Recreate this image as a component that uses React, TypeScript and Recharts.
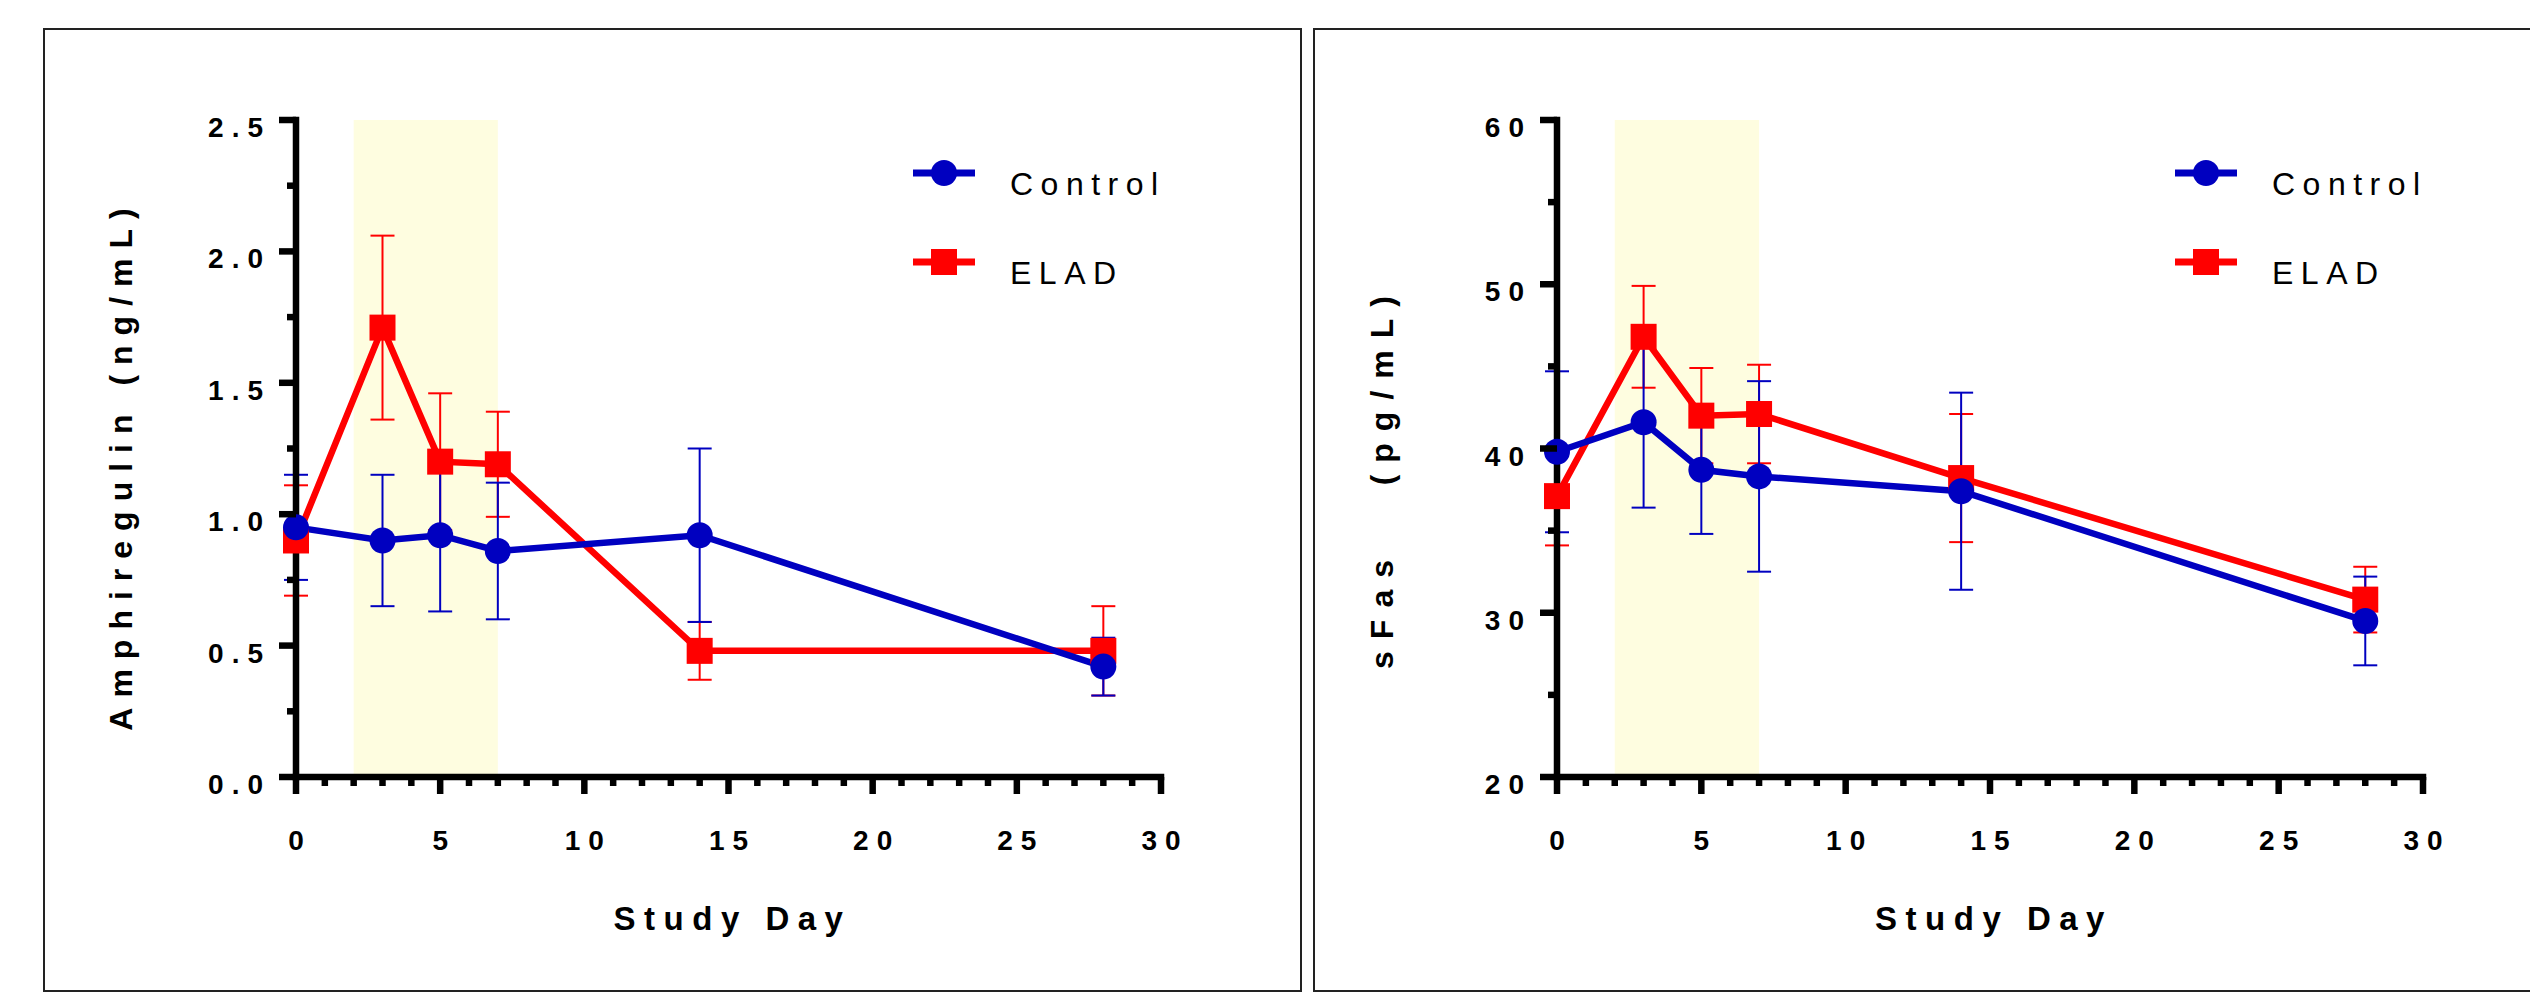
import React from 'react';
import { LineChart, Line, XAxis, YAxis, ErrorBar, ReferenceArea, Legend, Label } from 'recharts';

// ---------- data ----------
const DAYS = [0, 3, 5, 7, 14, 28];

const AMPH_CONTROL = [0.95, 0.90, 0.92, 0.86, 0.92, 0.42];
const AMPH_CONTROL_SEM = [0.20, 0.25, 0.29, 0.26, 0.33, 0.11];
const AMPH_ELAD = [0.90, 1.71, 1.20, 1.19, 0.48, 0.48];
const AMPH_ELAD_SEM = [0.21, 0.35, 0.26, 0.20, 0.11, 0.17];

const SFAS_CONTROL = [39.8, 41.6, 38.7, 38.3, 37.4, 29.5];
const SFAS_CONTROL_SEM = [4.9, 5.2, 3.9, 5.8, 6.0, 2.7];
const SFAS_ELAD = [37.1, 46.8, 42.0, 42.1, 38.2, 30.8];
const SFAS_ELAD_SEM = [3.0, 3.1, 2.9, 3.0, 3.9, 2.0];

const X_TICKS = [0, 1, 2, 3, 4, 5, 6, 7, 8, 9, 10, 11, 12, 13, 14, 15, 16, 17, 18, 19, 20, 21, 22, 23, 24, 25, 26, 27, 28, 29, 30];
const X_MAJOR = [0, 5, 10, 15, 20, 25, 30];
const X_LABELS = ['0', '5', '10', '15', '20', '25', '30'];

const AMPH_TICKS = [0, 0.25, 0.5, 0.75, 1, 1.25, 1.5, 1.75, 2, 2.25, 2.5];
const AMPH_MAJOR = [0, 0.5, 1, 1.5, 2, 2.5];
const AMPH_LABELS = ['0.0', '0.5', '1.0', '1.5', '2.0', '2.5'];

const SFAS_TICKS = [20, 25, 30, 35, 40, 45, 50, 55, 60];
const SFAS_MAJOR = [20, 30, 40, 50, 60];
const SFAS_LABELS = ['20', '30', '40', '50', '60'];

const SHADE_DAYS = [2, 7];

const SERIES_NAMES = ['Control', 'ELAD'];
const X_TITLE = 'Study Day';
const AMPH_TITLE = 'Amphiregulin (ng/mL)';
const SFAS_TITLE = 'sFas   (pg/mL)';

// ---------- styles ----------
const BLUE = '#0000c0';
const RED = '#ff0000';
const SHADE = '#fefde0';
const FONT = '"Liberation Sans", Arial, Helvetica, sans-serif';
const AXW = 6.5;
const TICK_LS = 8;

const rows = (vals: number[], sems: number[]) =>
  DAYS.map((d, i) => ({ day: d, value: vals[i], err: sems[i] }));

const makeYTick = (major: number[], labels: string[]) => (props: any) => {
  const { x, y, payload } = props;
  const idx = major.findIndex((m) => Math.abs(m - payload.value) < 1e-9);
  const isMajor = idx >= 0;
  return (
    <g>
      <line x1={x} x2={x - (isMajor ? 17 : 9)} y1={y} y2={y} stroke="#000" strokeWidth={AXW} />
      {isMajor && (
        <text x={x - 33 + TICK_LS} y={y + 17} textAnchor="end" fontFamily={FONT} fontWeight="bold" fontSize={28} letterSpacing={TICK_LS} fill="#000">
          {labels[idx]}
        </text>
      )}
    </g>
  );
};

const XTick = (props: any) => {
  const { x, y, payload } = props;
  const idx = X_MAJOR.indexOf(payload.value);
  const isMajor = idx >= 0;
  return (
    <g>
      <line x1={x} x2={x} y1={y} y2={y + (isMajor ? 17 : 9)} stroke="#000" strokeWidth={AXW} />
      {isMajor && (
        <text x={x + TICK_LS / 2} y={y + 73} textAnchor="middle" fontFamily={FONT} fontWeight="bold" fontSize={28} letterSpacing={TICK_LS} fill="#000">
          {X_LABELS[idx]}
        </text>
      )}
    </g>
  );
};

const LEGEND_ITEMS = [
  { name: SERIES_NAMES[0], color: BLUE, shape: 'circle' },
  { name: SERIES_NAMES[1], color: RED, shape: 'square' },
];

const LegendBox = () => (
  <svg width={330} height={180} style={{ display: 'block' }}>
    {LEGEND_ITEMS.map((s, i) => {
      const cy = 44 + i * 89;
      return (
        <g key={s.name}>
          <line x1={0} x2={62} y1={cy} y2={cy} stroke={s.color} strokeWidth={7} />
          {s.shape === 'circle' ? (
            <circle cx={31} cy={cy} r={13} fill={s.color} />
          ) : (
            <rect x={18} y={cy - 13} width={26} height={26} fill={s.color} />
          )}
          <text x={97} y={cy + 22} fontFamily={FONT} fontSize={32} letterSpacing={7.5} fill="#000">
            {s.name}
          </text>
        </g>
      );
    })}
  </svg>
);

const circleDot = (color: string) => (p: any) => (
  <circle key={`c-${p.index}`} cx={p.cx} cy={p.cy} r={13} fill={color} />
);
const squareDot = (color: string) => (p: any) => (
  <rect key={`s-${p.index}`} x={p.cx - 13} y={p.cy - 13} width={26} height={26} fill={color} />
);

type PanelProps = {
  width: number;
  marginLeft: number;
  marginRight: number;
  yDomain: [number, number];
  yTicks: number[];
  yMajor: number[];
  yLabels: string[];
  yTitle: string;
  yTitleDy: number;
  yTitleLs: number;
  control: any[];
  elad: any[];
  legendLeft: number;
};

const Panel = (p: PanelProps) => (
  <LineChart
    width={p.width}
    height={996}
    margin={{ top: 120, right: p.marginRight, bottom: 139, left: p.marginLeft }}
  >
    <ReferenceArea x1={SHADE_DAYS[0]} x2={SHADE_DAYS[1]} fill={SHADE} fillOpacity={1} stroke="none" ifOverflow="hidden" />
    <XAxis
      dataKey="day"
      type="number"
      domain={[0, 30]}
      ticks={X_TICKS}
      interval={0}
      height={80}
      tickSize={0}
      tickMargin={0}
      tickLine={false}
      axisLine={{ stroke: '#000', strokeWidth: AXW, strokeLinecap: 'square' }}
      tick={XTick}
      allowDuplicatedCategory={false}
    >
      <Label
        content={(lp: any) => {
          const vb = lp.viewBox;
          const cx = vb.x + vb.width / 2;
          const cy = 918;
          return (
            <text x={cx + 4} y={cy} textAnchor="middle" dominantBaseline="central" fontFamily={FONT} fontWeight="bold" fontSize={33} letterSpacing={8.5} fill="#000">
              {X_TITLE}
            </text>
          );
        }}
      />
    </XAxis>
    <YAxis
      type="number"
      domain={p.yDomain}
      ticks={p.yTicks}
      interval={0}
      width={100}
      tickSize={0}
      tickMargin={0}
      tickLine={false}
      axisLine={{ stroke: '#000', strokeWidth: AXW, strokeLinecap: 'square' }}
      tick={makeYTick(p.yMajor, p.yLabels)}
    >
      <Label
        content={(lp: any) => {
          const vb = lp.viewBox;
          const cx = vb.x + vb.width - 175;
          const cy = vb.y + vb.height / 2 + p.yTitleDy;
          return (
            <text
              x={cx}
              y={cy}
              transform={`rotate(-90 ${cx} ${cy})`}
              textAnchor="middle"
              dominantBaseline="central"
              fontFamily={FONT}
              fontWeight="bold"
              fontSize={32}
              letterSpacing={p.yTitleLs}
              fill="#000"
              style={{ whiteSpace: 'pre' }}
            >
              {p.yTitle}
            </text>
          );
        }}
      />
    </YAxis>
    <Legend
      layout="horizontal"
      align="center"
      verticalAlign="middle"
      content={() => <LegendBox />}
      wrapperStyle={{ position: 'absolute', left: p.legendLeft, top: 129, width: 330, height: 180 }}
    />
    <Line
      data={p.elad}
      dataKey="value"
      name={SERIES_NAMES[1]}
      stroke={RED}
      strokeWidth={6.5}
      dot={squareDot(RED)}
      activeDot={false}
      isAnimationActive={false}
      legendType="none"
    >
      <ErrorBar dataKey="err" direction="y" width={12} stroke={RED} strokeWidth={2} />
    </Line>
    <Line
      data={p.control}
      dataKey="value"
      name={SERIES_NAMES[0]}
      stroke={BLUE}
      strokeWidth={6.5}
      dot={circleDot(BLUE)}
      activeDot={false}
      isAnimationActive={false}
      legendType="none"
    >
      <ErrorBar dataKey="err" direction="y" width={12} stroke={BLUE} strokeWidth={2} />
    </Line>
  </LineChart>
);

export default function App() {
  return (
    <div style={{ position: 'absolute', left: 0, top: 0, width: 2530, height: 996, overflow: 'hidden', background: '#fff' }}>
      <div style={{ position: 'absolute', left: 43, top: 28, width: 1259, height: 964, border: '2px solid #222', boxSizing: 'border-box' }} />
      <div style={{ position: 'absolute', left: 1313, top: 28, width: 1300, height: 964, border: '2px solid #222', boxSizing: 'border-box' }} />
      <div style={{ position: 'absolute', left: 0, top: 0 }}>
        <Panel
          width={1300}
          marginLeft={196}
          marginRight={139}
          yDomain={[0, 2.5]}
          yTicks={AMPH_TICKS}
          yMajor={AMPH_MAJOR}
          yLabels={AMPH_LABELS}
          yTitle={AMPH_TITLE}
          yTitleDy={16}
          yTitleLs={10}
          control={rows(AMPH_CONTROL, AMPH_CONTROL_SEM)}
          elad={rows(AMPH_ELAD, AMPH_ELAD_SEM)}
          legendLeft={913}
        />
      </div>
      <div style={{ position: 'absolute', left: 1300, top: 0 }}>
        <Panel
          width={1230}
          marginLeft={157}
          marginRight={107}
          yDomain={[20, 60]}
          yTicks={SFAS_TICKS}
          yMajor={SFAS_MAJOR}
          yLabels={SFAS_LABELS}
          yTitle={SFAS_TITLE}
          yTitleDy={28}
          yTitleLs={12}
          control={rows(SFAS_CONTROL, SFAS_CONTROL_SEM)}
          elad={rows(SFAS_ELAD, SFAS_ELAD_SEM)}
          legendLeft={875}
        />
      </div>
    </div>
  );
}
